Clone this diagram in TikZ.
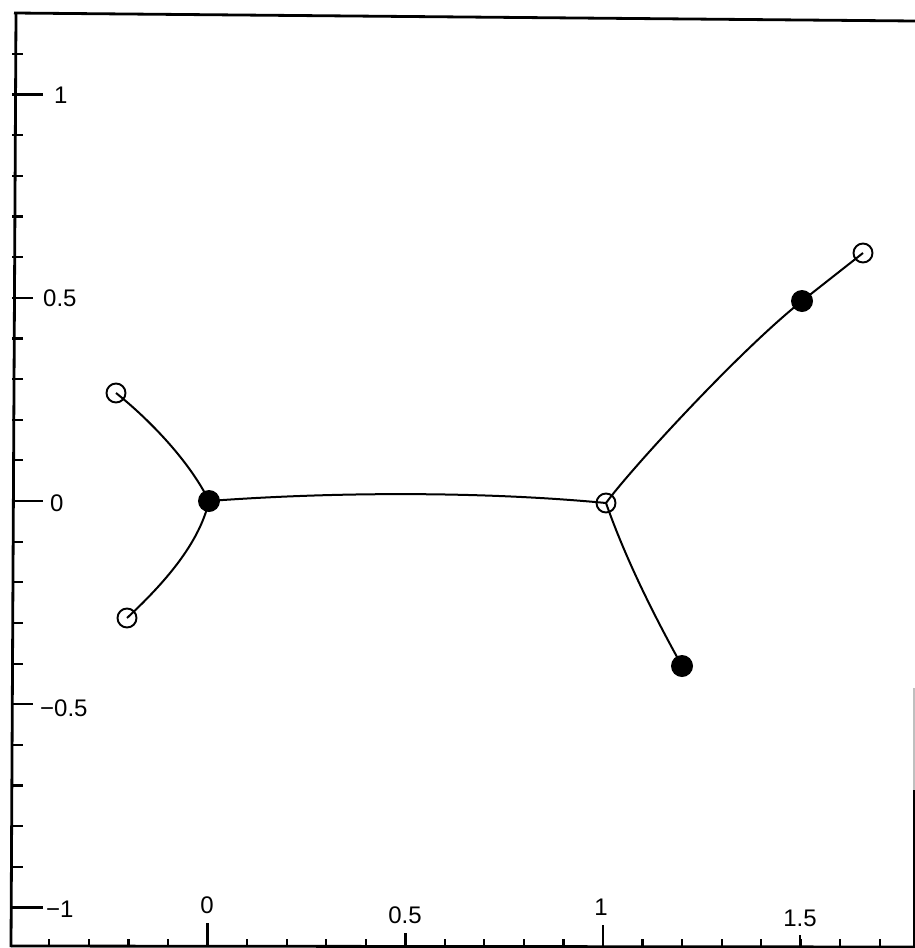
\documentclass[tikz,border=0pt]{standalone}
\usepackage{fontspec}
\setmainfont{Liberation Sans}
\begin{document}
\begin{tikzpicture}[x=1pt,y=-1pt,
  axisline/.style={line width=2.8pt,black},
  tickline/.style={line width=2.2pt,black},
  branch/.style={line width=2pt,black},
  leaf/.style={circle,draw,line width=1.9pt,minimum size=19pt,inner sep=0pt},
  hub/.style={circle,fill=black,minimum size=22pt,inner sep=0pt},
  lab/.style={font=\fontsize{24}{28}\selectfont,inner sep=0pt}]
\useasboundingbox (0,0) rectangle (915,948);
\fill[white] (0,0) rectangle (915,948);

% frame / axes
\draw[axisline] (14,13) -- (915,21);
\draw[axisline] (16,13) -- (11,947);
\draw[axisline] (11,946) -- (915,947);
\draw[line width=1.2pt,black!25] (914,688) -- (914,790);
\draw[axisline] (914,790) -- (914,948);

% y ticks
\foreach \v in {-10,...,11}{
  \draw[tickline] (12,{501-40.65*\v}) -- (23,{501-40.65*\v});
}
\foreach \v in {10,-10,0}{
  \draw[tickline] (12,{501-40.65*\v}) -- (43,{501-40.65*\v});
}
\foreach \v in {5,-5}{
  \draw[tickline] (12,{501-40.65*\v}) -- (33,{501-40.65*\v});
}
\node[lab,anchor=west] (y1) at (54,95) {1};
\node[lab,anchor=west] (y05) at (43,298) {0.5};
\node[lab,anchor=west] (y0) at (50,503) {0};
\node[lab,anchor=west] (ym05) at (40,708) {−0.5};
\node[lab,anchor=west] (ym1) at (46,909) {−1};

% x ticks
\foreach \v in {-4,...,17}{
  \draw[tickline] ({207.5+39.55*\v},946) -- ({207.5+39.55*\v},939);
}
\draw[tickline] (207.5,946) -- (207.5,923);
\draw[tickline] (405.5,946) -- (405.5,933);
\draw[tickline] (603,946) -- (603,925);
\draw[tickline] (800,946) -- (800,935);
\node[lab] (x0) at (207,905) {0};
\node[lab] (x05) at (405,915) {0.5};
\node[lab] (x1) at (601,907) {1};
\node[lab] (x15) at (800,918) {1.5};

% vertices
\node[hub]  (A) at (209,501) {};
\node[leaf] (B) at (116,393) {};
\node[leaf] (C) at (127,618) {};
\node[leaf] (D) at (606,503) {};
\node[hub]  (E) at (682,666) {};
\node[hub]  (F) at (802,301) {};
\node[leaf] (G) at (863,253) {};

% branches
\draw[branch] (A.center) .. controls (190,462) and (150,420) .. (B.center);
\draw[branch] (A.center) .. controls (200,540) and (170,578) .. (C.center);
\draw[branch] (A.center) .. controls (330,492) and (480,491) .. (D.center);
\draw[branch] (D.center) .. controls (630,470) and (740,350) .. (F.center);
\draw[branch] (F.center) -- (G.center);
\draw[branch] (D.center) .. controls (625,557) and (652,612) .. (E.center);
\end{tikzpicture}
\end{document}
